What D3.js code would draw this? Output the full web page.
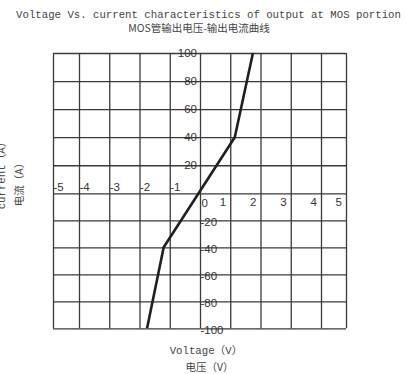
<!DOCTYPE html>
<html>
<head>
<meta charset="utf-8">
<script src="https://cdn.jsdelivr.net/npm/d3@7"></script>
<style>
  body { margin: 0; background: #fff; }
  svg { display: block; }
</style>
</head>
<body>
<svg id="chart"></svg>
<script>
// data
var xTicks = [-5, -4, -3, -2, -1, 0, 1, 2, 3, 4, 5];
var yTicks = [-100, -80, -60, -40, -20, 0, 20, 40, 60, 80, 100];
var xNegLabels = ["-5", "-4", "-3", "-2", "-1"];
var xPosLabels = ["1", "2", "3", "4", "5"];
var yPosLabels = ["20", "40", "60", "80", "100"];
var yNegLabels = ["-20", "-40", "-60", "-80", "-100"];
var voltage = [-1.75, -1.2, 1.15, 1.75];
var current = [-100, -40, 40, 100];

var w = 406, h = 374;
var plotL = 53, plotR = 346, plotT = 53, plotB = 328.3;

var svg = d3.select("#chart").attr("width", w).attr("height", h);

// outer columns are a bit narrower in the original, hence the 4 stop domain
var x = d3.scaleLinear().domain([-5, -4, 4, 5]).range([plotL, 79, 321, plotR]);
var y = d3.scaleLinear().domain([-100, 0, 100]).range([plotB, 193.3, plotT]);

var gridColor = "#3a3a3a";

// horizontal grid
var gy = svg.append("g")
  .attr("transform", "translate(" + plotL + ",0)")
  .call(d3.axisLeft(y).tickValues(yTicks).tickSize(-(plotR - plotL)).tickFormat(""));
// vertical grid
var gx = svg.append("g")
  .attr("transform", "translate(0," + plotB + ")")
  .call(d3.axisBottom(x).tickValues(xTicks).tickSize(-(plotB - plotT)).tickFormat(""));
[gx, gy].forEach(function(g) {
  g.select(".domain").remove();
  g.selectAll("line").attr("stroke", gridColor).attr("stroke-width", 1.3);
});

var tickFont = "'Liberation Sans', Arial, sans-serif";
var tickColor = "#333";

// y tick labels
svg.selectAll("text.ypos").data(yPosLabels).enter().append("text")
  .attr("class", "ypos")
  .attr("x", x(0) - 3)
  .attr("y", function(d) { return y(+d) + 3.5; })
  .attr("text-anchor", "end")
  .attr("font-family", tickFont).attr("font-size", 11.5).attr("fill", tickColor)
  .text(function(d) { return d; });
svg.selectAll("text.yneg").data(yNegLabels).enter().append("text")
  .attr("class", "yneg")
  .attr("x", x(0) + 0.5)
  .attr("y", function(d) { return y(+d) + 6; })
  .attr("text-anchor", "start")
  .attr("font-family", tickFont).attr("font-size", 11.5).attr("fill", tickColor)
  .text(function(d) { return d; });

// x tick labels
svg.selectAll("text.xneg").data(xNegLabels).enter().append("text")
  .attr("class", "xneg")
  .attr("x", function(d) { return x(+d) + 0.5; })
  .attr("y", y(0) - 2)
  .attr("text-anchor", "start")
  .attr("font-family", tickFont).attr("font-size", 11.5).attr("fill", tickColor)
  .text(function(d) { return d; });
svg.selectAll("text.xpos").data(xPosLabels).enter().append("text")
  .attr("class", "xpos")
  .attr("x", function(d) { return x(+d) - 4; })
  .attr("y", y(0) + 13)
  .attr("text-anchor", "end")
  .attr("font-family", tickFont).attr("font-size", 11.5).attr("fill", tickColor)
  .text(function(d) { return d; });
svg.append("text")
  .attr("x", x(0) + 1.5).attr("y", y(0) + 14)
  .attr("font-family", tickFont).attr("font-size", 11.5).attr("fill", tickColor)
  .text("0");

// curve
var pts = voltage.map(function(v, i) { return [v, current[i]]; });
svg.append("path")
  .attr("d", d3.line().x(function(d) { return x(d[0]); }).y(function(d) { return y(d[1]); })(pts))
  .attr("fill", "none")
  .attr("stroke", "#1e1e24")
  .attr("stroke-width", 2.6)
  .attr("stroke-linejoin", "round");

// titles
var monoFont = "'Liberation Mono', 'Noto Sans CJK SC', monospace";
var cjkFont = "'Noto Sans CJK SC', sans-serif";
var titleColor = "#444";
svg.append("text")
  .attr("x", 208.5).attr("y", 18)
  .attr("text-anchor", "middle")
  .attr("font-family", monoFont).attr("font-size", 10.7).attr("fill", titleColor)
  .text("Voltage Vs. current characteristics of output at MOS portion");
svg.append("text")
  .attr("x", 199).attr("y", 32)
  .attr("text-anchor", "middle")
  .attr("font-family", cjkFont).attr("font-size", 10.5).attr("fill", titleColor)
  .text("MOS管输出电压-输出电流曲线");

// axis titles
svg.append("text")
  .attr("x", 206).attr("y", 354)
  .attr("text-anchor", "middle")
  .attr("font-family", monoFont).attr("font-size", 10.7).attr("fill", titleColor)
  .text("Voltage（V）");
svg.append("text")
  .attr("x", 209.5).attr("y", 371)
  .attr("text-anchor", "middle")
  .attr("font-family", cjkFont).attr("font-size", 10.5).attr("fill", titleColor)
  .text("电压（V）");
svg.append("text")
  .attr("transform", "translate(4.5,173) rotate(-90)")
  .attr("text-anchor", "middle")
  .attr("font-family", monoFont).attr("font-size", 10.7).attr("fill", titleColor)
  .text("current（A）");
svg.append("text")
  .attr("transform", "translate(23,182) rotate(-90)")
  .attr("text-anchor", "middle")
  .attr("font-family", cjkFont).attr("font-size", 10.5).attr("fill", titleColor)
  .text("电流（A）");
</script>
</body>
</html>
